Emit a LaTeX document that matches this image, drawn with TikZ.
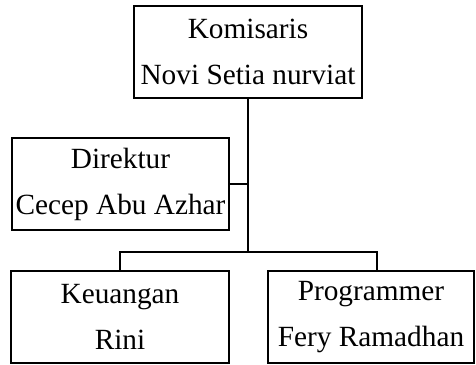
\documentclass[tikz,border=0pt]{standalone}
\usepackage{fontspec}
\setmainfont{Liberation Serif}
\usepackage{tikz}
\usetikzlibrary{positioning, calc}

\begin{document}
\begin{tikzpicture}[x=1pt, y=-1pt,
    orgbox/.style={draw, line width=1.5pt, align=center, inner sep=0pt,
      minimum height=92pt, font=\fontsize{29.3}{46}\selectfont},
    orgline/.style={line width=1.5pt}]
  \useasboundingbox (0,0) rectangle (476,364);
  \node[orgbox, minimum width=228pt] (kom) at (248,52) {Komisaris\\Novi Setia nurviat};
  \node[orgbox, minimum width=217pt] (dir) at (120.5,184) {Direktur\\Cecep Abu Azhar};
  \node[orgbox, minimum width=218pt] (keu) at (120,317) {Keuangan\\Rini};
  \node[orgbox, minimum width=206pt] (prog) at (371,317) {Programmer\\Fery Ramadhan};
  \coordinate (bus) at (248,252);
  \draw[orgline] (kom.south) -- (bus);
  \draw[orgline] (dir.east) -- (dir.east -| kom.south);
  \draw[orgline] (keu.north) |- (bus) -| ([xshift=6pt]prog.north);
\end{tikzpicture}
\end{document}
